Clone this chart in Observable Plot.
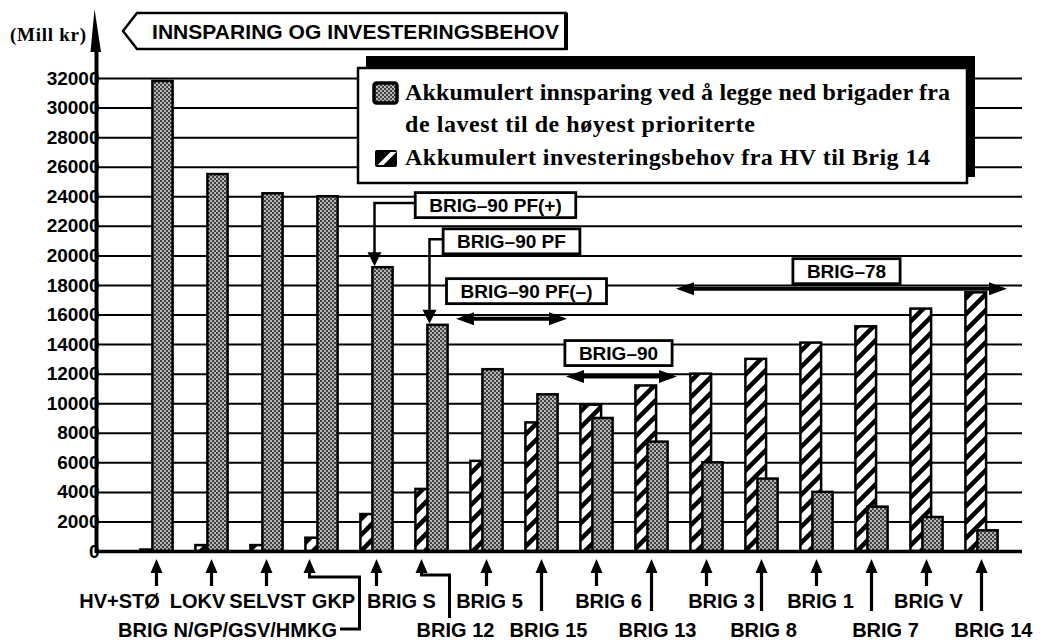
<!DOCTYPE html>
<html><head><meta charset="utf-8">
<script src="https://cdn.jsdelivr.net/npm/d3@7"></script>
<script src="https://cdn.jsdelivr.net/npm/@observablehq/plot@0.6"></script>
<style>
html,body{margin:0;padding:0;background:#fff;}
#chart{width:1050px;height:644px;}
</style></head><body><div id="chart"></div>
<script>
// ---------- DATA ----------
const categories = ["HV+STØ","LOKV","SELVST","GKP","BRIG S","BRIG 12","BRIG 5","BRIG 15","BRIG 6","BRIG 13","BRIG 3","BRIG 8","BRIG 1","BRIG 7","BRIG V","BRIG 14"];
const savings    = [31800,25500,24200,24000,19200,15300,12300,10600,9000,7400,6000,4900,4000,3000,2300,1400];
const investment = [100,400,400,900,2500,4200,6100,8700,9900,11200,12000,13000,14100,15200,16400,17500];
const yTicks = d3.range(0, 32001, 2000);
const titleText = "INNSPARING OG INVESTERINGSBEHOV";
const unitText = "(Mill kr)";
const legendLines = ["Akkumulert innsparing ved å legge ned brigader fra", "de lavest til de høyest prioriterte", "Akkumulert investeringsbehov fra HV til Brig 14"];
const extraLabel = {text: "BRIG N/GP/GSV/HMKG", group: "GKP"};
const pointerNotes = [
  {label: "BRIG–90 PF(+)", target: "BRIG S", y: 23400},
  {label: "BRIG–90 PF",    target: "BRIG 12", y: 20950}
];
const spanNotes = [
  {label: "BRIG–90 PF(–)", from: "BRIG 5", to: "BRIG 15", y: 17580, arrowY: 15720},
  {label: "BRIG–90",       from: "BRIG 6", to: "BRIG 13", y: 13390, arrowY: 11800},
  {label: "BRIG–78",       from: "BRIG 3", to: "BRIG 14", y: 18930, arrowY: 17750}
];

// ---------- LAYOUT (styling only) ----------
const labelRow   = [1,1,1,1,1,2,1,2,1,2,1,2,1,2,1,2];
const labelNudge = [-37,-14,1,12,25,24,3,7,12,6,15,2,4,14,2,12];
const boxNudge = {"BRIG–90 PF(+)": 9, "BRIG–90 PF": 25, "BRIG–90 PF(–)": 15, "BRIG–90": -3, "BRIG–78": 5};
const SANS = "'Liberation Sans', Arial, sans-serif";
const SERIF = "'Liberation Serif', 'Times New Roman', serif";

const table = categories.map((c, i) => ({cat: c, save: savings[i], inv: investment[i]}));

const plot = Plot.plot({
  width: 1050, height: 644,
  marginLeft: 97, marginRight: 28, marginTop: 78, marginBottom: 93,
  x: {type: "band", domain: categories, paddingInner: 0, paddingOuter: 0.2885, align: 0.7, axis: null},
  y: {domain: [0, 32000], axis: null},
  style: {background: "#fff", fontFamily: SANS, color: "#000"},
  marks: [
    Plot.ruleY(yTicks, {stroke: "#000", strokeWidth: 2}),
    Plot.barY(table, {x: "cat", y: "inv", fill: "url(#hatch)", stroke: "#000", strokeWidth: 2.5, insetLeft: 11.4, insetRight: 22.9}),
    Plot.barY(table, {x: "cat", y: "save", fill: "url(#stipple)", stroke: "#000", strokeWidth: 2.5, insetLeft: 23.4, insetRight: 11.4}),
    Plot.ruleY([0], {stroke: "#000", strokeWidth: 3.5}),
    Plot.text(yTicks, {y: d => d, text: d => String(d), frameAnchor: "left", textAnchor: "end", dx: 2,
      fontSize: 19, fontWeight: "bold", fill: "#000", ariaLabel: "ytick"})
  ]
});
document.getElementById("chart").appendChild(plot);

const svg = d3.select(plot);
svg.selectAll('g[aria-label="ytick"] text').attr("letter-spacing", "1px");

// patterns
const defs = svg.insert("defs", ":first-child");
const st = defs.append("pattern").attr("id", "stipple").attr("patternUnits", "userSpaceOnUse").attr("width", 4).attr("height", 4);
st.append("rect").attr("width", 4).attr("height", 4).attr("fill", "#b8b8b8");
st.append("circle").attr("cx", 1).attr("cy", 1).attr("r", 1).attr("fill", "#1a1a1a");
st.append("circle").attr("cx", 3).attr("cy", 3).attr("r", 1).attr("fill", "#1a1a1a");
const ht = defs.append("pattern").attr("id", "hatch").attr("patternUnits", "userSpaceOnUse").attr("width", 16).attr("height", 16);
ht.append("rect").attr("width", 16).attr("height", 16).attr("fill", "#fff");
ht.append("path").attr("d", "M-4,4L4,-4M0,16L16,0M12,20L20,12").attr("stroke", "#000").attr("stroke-width", 4.5);

// scales from the plot
const xd = plot.scale("x"), yd = plot.scale("y");
const band = d3.scaleBand(xd.domain, xd.range).paddingInner(xd.paddingInner ?? 0).paddingOuter(xd.paddingOuter ?? 0).align(xd.align ?? 0.5);
const bw = xd.bandwidth ?? band.bandwidth();
const xStart = c => (xd.apply ? xd.apply(c) : band(c));
const X = c => xStart(c) + bw / 2;
const Y = v => (yd.apply ? yd.apply(v) : d3.scaleLinear(yd.domain, yd.range)(v));
const left = xd.range[0], bottom = Y(0);

const g = svg.append("g").attr("text-anchor", "start");
function tri(x, y, dir, len, hw) {
  let p;
  if (dir === "up") p = [[x, y], [x - hw, y + len], [x + hw, y + len]];
  if (dir === "down") p = [[x, y], [x - hw, y - len], [x + hw, y - len]];
  if (dir === "left") p = [[x, y], [x + len, y - hw], [x + len, y + hw]];
  if (dir === "right") p = [[x, y], [x - len, y - hw], [x - len, y + hw]];
  g.append("path").attr("d", "M" + p.join("L") + "Z").attr("fill", "#000");
}
function line(pts, w) {
  g.append("path").attr("d", "M" + pts.join("L")).attr("fill", "none").attr("stroke", "#000").attr("stroke-width", w);
}

// y axis with arrow
line([[left - 0.5, bottom + 2], [left - 0.5, 48]], 4);
g.append("path").attr("d", `M${left - 2.5},9L${left - 6.5},52L${left + 4},52Z`).attr("fill", "#000");

// unit label
g.append("text").attr("x", 10).attr("y", 41).attr("text-anchor", "start").attr("font-family", SERIF).attr("font-weight", "bold")
  .attr("font-size", 19).attr("textLength", 76).text(unitText);

// title box
g.append("path").attr("d", "M123,31L137,13L566,13L566,49L137,49Z").attr("fill", "#fff").attr("stroke", "#000").attr("stroke-width", 2.5);
line([[566, 13], [566, 50]], 4);
g.append("text").attr("x", 152).attr("y", 38.5).attr("text-anchor", "start").attr("font-family", SANS).attr("font-weight", "bold")
  .attr("font-size", 21).attr("textLength", 407).text(titleText);

// legend
g.append("rect").attr("x", 366).attr("y", 56).attr("width", 609).attr("height", 121).attr("fill", "#000");
g.append("rect").attr("x", 358).attr("y", 68).attr("width", 609).attr("height", 115).attr("fill", "#fff").attr("stroke", "#000").attr("stroke-width", 2.5);
g.append("rect").attr("x", 374).attr("y", 83).attr("width", 23).attr("height", 20).attr("rx", 2.5).attr("fill", "url(#stipple)").attr("stroke", "#000").attr("stroke-width", 3.5);
g.append("rect").attr("x", 375).attr("y", 150).attr("width", 22).attr("height", 17).attr("rx", 2).attr("fill", "#000");
g.append("path").attr("d", "M380,164L383,164L394,153L391,153Z").attr("fill", "#fff").attr("stroke", "#fff").attr("stroke-width", 2);
const legW = [545, 350, 525], legB = [100, 132, 165];
legendLines.forEach((t, i) => {
  g.append("text").attr("x", 405).attr("y", legB[i]).attr("text-anchor", "start").attr("font-family", SERIF).attr("font-weight", "bold")
    .attr("font-size", 24).attr("textLength", legW[i]).text(t);
});

// annotation box helper
function noteBox(label, cx, cy) {
  const t = g.append("text").attr("font-family", SANS).attr("font-weight", "bold").attr("font-size", 19)
    .attr("text-anchor", "middle").attr("x", cx).attr("y", cy + 7).text(label);
  const w = t.node().getComputedTextLength() + 28, h = 25;
  g.insert("rect", () => t.node()).attr("x", cx - w / 2).attr("y", cy - h / 2).attr("width", w).attr("height", h)
    .attr("fill", "#fff").attr("stroke", "#000").attr("stroke-width", 2.8);
  return {x0: cx - w / 2, x1: cx + w / 2};
}

// pointer notes
const tableBy = new Map(table.map(d => [d.cat, d]));
pointerNotes.forEach(n => {
  const cx = X("BRIG 5") + boxNudge[n.label], cy = Y(n.y);
  const tx = X(n.target) - 2, ty = Y(tableBy.get(n.target).save) - 1;
  line([[cx - 60, cy - 2], [tx, cy - 2], [tx, ty - 12]], 2.5);
  tri(tx, ty, "down", 14, 7);
  noteBox(n.label, cx, cy);
});

// span notes
spanNotes.forEach(n => {
  const a = xStart(n.from) - 3, b = xStart(n.to) + bw - 2;
  const cx = (a + b) / 2 + boxNudge[n.label], cy = Y(n.y), ay = Y(n.arrowY);
  line([[a + 12, ay], [b - 12, ay]], 4);
  tri(a, ay, "left", 18, 6.5);
  tri(b, ay, "right", 18, 6.5);
  noteBox(n.label, cx, cy);
});

// category labels with arrows
const tipY = 559, rowBase = {1: 608, 2: 637}, tailY = {1: 586, 2: 611};
categories.forEach((c, i) => {
  const cx = X(c), row = labelRow[i];
  g.append("text").attr("x", cx + labelNudge[i]).attr("y", rowBase[row]).attr("text-anchor", "middle")
    .attr("font-family", SANS).attr("font-weight", "bold").attr("font-size", 20).text(c);
  if (c === "GKP" || c === "BRIG 12") return;
  line([[cx, tipY + 10], [cx, tailY[row]]], 3.2);
  tri(cx, tipY, "up", 14, 6);
});
// GKP elbow to the extra label
{
  const ax = X(extraLabel.group) - 12;
  const lab = g.append("text").attr("x", ax - 82).attr("y", rowBase[2]).attr("text-anchor", "middle")
    .attr("font-family", SANS).attr("font-weight", "bold").attr("font-size", 20).text(extraLabel.text);
  const end = ax - 82 + lab.node().getComputedTextLength() / 2;
  line([[ax, tipY + 10], [ax, 577], [ax + 50, 577], [ax + 50, 629], [end + 3, 629]], 3);
  tri(ax, tipY, "up", 14, 6);
}
// BRIG 12 elbow
{
  const ax = X("BRIG 12") - 10;
  line([[ax, tipY + 10], [ax, 575], [ax + 28, 575], [ax + 28, 618]], 3);
  tri(ax, tipY, "up", 14, 6);
}
</script></body></html>
